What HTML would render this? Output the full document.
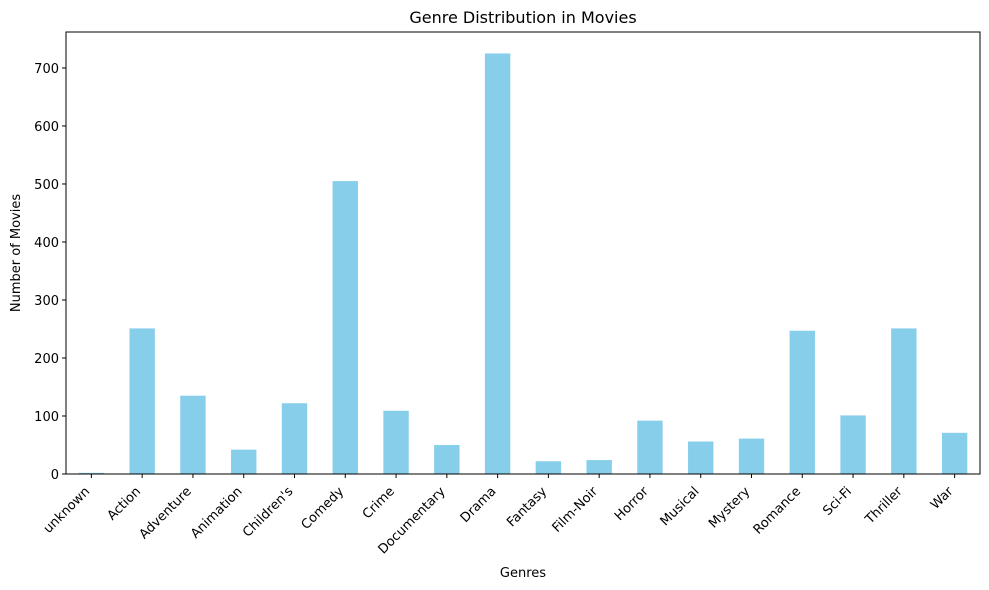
<!DOCTYPE html>
<html><head><meta charset="utf-8"><style>
body{margin:0;background:#fff;}
svg{display:block;font-family:"DejaVu Sans","Liberation Sans",sans-serif;}
</style></head><body>
<svg id="chart" width="989" height="590"></svg>
<script>
const categories=["unknown","Action","Adventure","Animation","Children's","Comedy","Crime","Documentary","Drama","Fantasy","Film-Noir","Horror","Musical","Mystery","Romance","Sci-Fi","Thriller","War"];
const counts=[2,251,135,42,122,505,109,50,725,22,24,92,56,61,247,101,251,71];
const yTicks=[0,100,200,300,400,500,600,700];
const NS="http://www.w3.org/2000/svg";
const svg=document.getElementById('chart');
const L=66,R=980,T=32,B=474,yMax=762;
const step=(R-L)/categories.length;
const xC=i=>L+(i+0.5)*step;
const y=v=>B-v/yMax*(B-T);
function mk(tag,attrs,parent){const e=document.createElementNS(NS,tag);for(const k in attrs)e.setAttribute(k,attrs[k]);(parent||svg).appendChild(e);return e;}
const title=mk('text',{x:(L+R)/2,y:23,'text-anchor':'middle','font-size':16,fill:'#000'});
title.textContent='Genre Distribution in Movies';


counts.forEach((v,i)=>{
  const r=mk('rect',{x:xC(i)-step*0.25,y:y(v),width:step*0.5,height:B-y(v),fill:'#87ceeb'});
  
  
});
const frame=mk('rect',{x:L,y:T,width:R-L,height:B-T,fill:'none',stroke:'#000','stroke-width':1});


yTicks.forEach(t=>{
  mk('line',{x1:L-4,x2:L,y1:y(t),y2:y(t),stroke:'#000','stroke-width':1});
  const tx=mk('text',{x:L-7,y:y(t)+5,'text-anchor':'end','font-size':13,fill:'#000'});
  tx.textContent=t;
  
  
});
categories.forEach((c,i)=>{
  const x=xC(i);
  mk('line',{x1:x,x2:x,y1:B,y2:B+4,stroke:'#000','stroke-width':1});
  const ax=x-1, ay=B+18;
  const tx=mk('text',{x:ax,y:ay,'text-anchor':'end','font-size':13,fill:'#000',transform:`rotate(-45 ${ax} ${ay})`});
  tx.textContent=c;
  
  
});
const xt=mk('text',{x:(L+R)/2,y:577,'text-anchor':'middle','font-size':13,fill:'#000'});
xt.textContent='Genres';


const yt=mk('text',{x:20,y:(T+B)/2,'text-anchor':'middle','font-size':13,fill:'#000',transform:`rotate(-90 20 ${(T+B)/2})`});
yt.textContent='Number of Movies';


</script>
</body></html>
